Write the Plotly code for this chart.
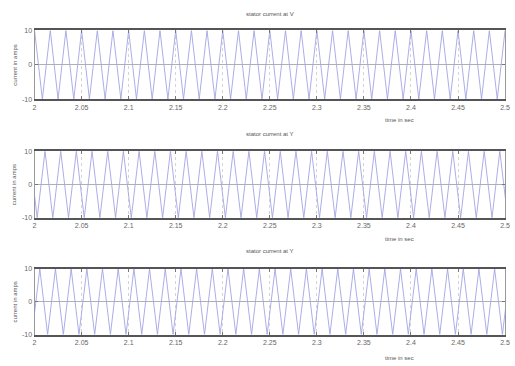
import plotly.graph_objects as go

# Read values: times (s) of peaks and troughs for each stator phase current
amp = 10
titles = ["stator current at V", "stator current at Y", "stator current at Y"]
x_ticks = [2, 2.05, 2.1, 2.15, 2.2, 2.25, 2.3, 2.35, 2.4, 2.45, 2.5]
x_ticklabels = ["2", "2.05", "2.1", "2.15", "2.2", "2.25", "2.3", "2.35", "2.4", "2.45", "2.5"]
y_ticks = [-10, 0, 10]

peaks_1 = [2.0, 2.0167, 2.0333, 2.05, 2.0667, 2.0833, 2.1, 2.1167, 2.1333, 2.15, 2.1667, 2.1833,
           2.2, 2.2167, 2.2333, 2.25, 2.2667, 2.2833, 2.3, 2.3167, 2.3333, 2.35, 2.3667, 2.3833,
           2.4, 2.4167, 2.4333, 2.45, 2.4667, 2.4833, 2.5]
troughs_1 = [2.0083, 2.025, 2.0417, 2.0583, 2.075, 2.0917, 2.1083, 2.125, 2.1417, 2.1583, 2.175,
             2.1917, 2.2083, 2.225, 2.2417, 2.2583, 2.275, 2.2917, 2.3083, 2.325, 2.3417, 2.3583,
             2.375, 2.3917, 2.4083, 2.425, 2.4417, 2.4583, 2.475, 2.4917]

peaks_2 = [1.9944, 2.0111, 2.0278, 2.0444, 2.0611, 2.0778, 2.0944, 2.1111, 2.1278, 2.1444, 2.1611,
           2.1778, 2.1944, 2.2111, 2.2278, 2.2444, 2.2611, 2.2778, 2.2944, 2.3111, 2.3278, 2.3444,
           2.3611, 2.3778, 2.3944, 2.4111, 2.4278, 2.4444, 2.4611, 2.4778, 2.4944]
troughs_2 = [2.0028, 2.0194, 2.0361, 2.0528, 2.0694, 2.0861, 2.1028, 2.1194, 2.1361, 2.1528, 2.1694,
             2.1861, 2.2028, 2.2194, 2.2361, 2.2528, 2.2694, 2.2861, 2.3028, 2.3194, 2.3361, 2.3528,
             2.3694, 2.3861, 2.4028, 2.4194, 2.4361, 2.4528, 2.4694, 2.4861, 2.5028]

peaks_3 = [2.0056, 2.0222, 2.0389, 2.0556, 2.0722, 2.0889, 2.1056, 2.1222, 2.1389, 2.1556, 2.1722,
           2.1889, 2.2056, 2.2222, 2.2389, 2.2556, 2.2722, 2.2889, 2.3056, 2.3222, 2.3389, 2.3556,
           2.3722, 2.3889, 2.4056, 2.4222, 2.4389, 2.4556, 2.4722, 2.4889, 2.5056]
troughs_3 = [1.9972, 2.0139, 2.0306, 2.0472, 2.0639, 2.0806, 2.0972, 2.1139, 2.1306, 2.1472, 2.1639,
             2.1806, 2.1972, 2.2139, 2.2306, 2.2472, 2.2639, 2.2806, 2.2972, 2.3139, 2.3306, 2.3472,
             2.3639, 2.3806, 2.3972, 2.4139, 2.4306, 2.4472, 2.4639, 2.4806, 2.4972]


def series(peaks, troughs):
    pts = sorted([(t, amp) for t in peaks] + [(t, -amp) for t in troughs])
    return [p[0] for p in pts], [p[1] for p in pts]


data = [series(peaks_1, troughs_1), series(peaks_2, troughs_2), series(peaks_3, troughs_3)]

W, H = 515, 366
x0, x1 = 33, 510
panels_px = [(27, 97), (150, 218), (270, 337)]  # top, bottom pixel of plot areas
title_px = [10, 133, 252]
xlabel_px = [118, 240, 361]

fig = go.Figure()
txt = dict(family="Liberation Sans, Arial", size=6, color="#555")
tickf = dict(family="Liberation Sans, Arial", size=7, color="#666")

for i, ((xs, ys), (top, bot)) in enumerate(zip(data, panels_px)):
    n = "" if i == 0 else str(i + 1)
    fig.add_trace(go.Scatter(x=xs, y=ys, mode="lines", xaxis="x" + n, yaxis="y" + n,
                             line=dict(color="#a4a4e4", width=0.9), showlegend=False))
    dom_y = [1 - bot / H, 1 - top / H]
    fig.update_layout(**{
        "xaxis" + n: dict(domain=[x0 / W, x1 / W], range=[2, 2.5], anchor="y" + n,
                          tickvals=x_ticks, ticktext=x_ticklabels,
                          showline=True, linecolor="#555", linewidth=2, mirror="ticks",
                          ticks="inside", ticklen=3, tickcolor="#777",
                          showgrid=True, gridcolor="#d4d4d4", griddash="dot", gridwidth=1,
                          zeroline=False, tickfont=tickf),
        "yaxis" + n: dict(domain=dom_y, range=[-10, 10], anchor="x" + n,
                          tickvals=y_ticks, ticktext=["-10", "0", "10"],
                          showline=True, linecolor="#999", linewidth=1, mirror="ticks",
                          ticks="inside", ticklen=3, tickcolor="#777",
                          showgrid=True, gridcolor="#bbb", griddash="dot", gridwidth=1,
                          zeroline=True, zerolinecolor="#b0b0b0", zerolinewidth=1,
                          tickfont=tickf),
    })
    fig.add_annotation(text=titles[i], x=272 / W, y=1 - title_px[i] / H, xref="paper", yref="paper",
                       showarrow=False, font=txt, xanchor="center", yanchor="middle")
    fig.add_annotation(text="time in sec", x=403 / W, y=1 - xlabel_px[i] / H, xref="paper", yref="paper",
                       showarrow=False, font=txt, xanchor="center", yanchor="middle")
    fig.add_annotation(text="current in amps", x=13 / W, y=1 - (top + bot) / 2 / H, xref="paper",
                       yref="paper", showarrow=False, font=txt, textangle=-90,
                       xanchor="center", yanchor="middle")

fig.update_layout(width=W, height=H, margin=dict(l=0, r=0, t=0, b=0),
                  paper_bgcolor="white", plot_bgcolor="white")
fig.write_html("out.html")
